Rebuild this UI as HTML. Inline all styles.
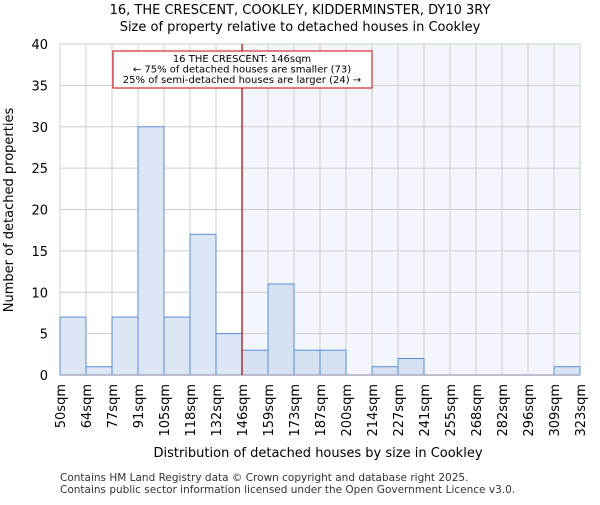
<!DOCTYPE html>
<html><head><meta charset="utf-8"><style>body{margin:0;background:#fff}svg{font-family:"DejaVu Sans","Liberation Sans",sans-serif}</style></head>
<body>
<svg id="c" width="600" height="500" xmlns="http://www.w3.org/2000/svg">
<text x="300" y="14" text-anchor="middle" font-size="13">16, THE CRESCENT, COOKLEY, KIDDERMINSTER, DY10 3RY</text>
<text x="300" y="31" text-anchor="middle" font-size="13">Size of property relative to detached houses in Cookley</text>
<text transform="translate(13,210) rotate(-90)" text-anchor="middle" font-size="13">Number of detached properties</text>
<text x="318" y="457" text-anchor="middle" font-size="13">Distribution of detached houses by size in Cookley</text>
<text x="60" y="481" font-size="10.5" fill="#333">Contains HM Land Registry data © Crown copyright and database right 2025.</text>
<text x="60" y="493" font-size="10.5" fill="#333">Contains public sector information licensed under the Open Government Licence v3.0.</text>
<g id="plot"></g>
</svg>
<script>
const labels=["50sqm","64sqm","77sqm","91sqm","105sqm","118sqm","132sqm","146sqm","159sqm","173sqm","187sqm","200sqm","214sqm","227sqm","241sqm","255sqm","268sqm","282sqm","296sqm","309sqm","323sqm"];
const counts=[7,1,7,30,7,17,5,3,11,3,3,0,1,2,0,0,0,0,0,1];
const yTicks=[0,5,10,15,20,25,30,35,40];
const markerIndex=7;
const NS="http://www.w3.org/2000/svg";
const g=document.getElementById('plot');
const L=60,R=580,T=44,B=375,n=counts.length,bw=(R-L)/n;
const x=i=>L+i*bw, y=v=>B-(v/40)*(B-T);
function mk(t,a,p){const e=document.createElementNS(NS,t);for(const k in a)e.setAttribute(k,a[k]);(p||g).appendChild(e);return e;}
let e=mk('rect',{x:x(markerIndex),y:T,width:R-x(markerIndex),height:B-T,fill:'#f3f6fd'});


for(let i=0;i<=n;i++){e=mk('line',{x1:x(i),x2:x(i),y1:T,y2:B,stroke:'#ccc'});

}
yTicks.forEach(v=>{e=mk('line',{x1:L,x2:R,y1:y(v),y2:y(v),stroke:'#ccc'});


const t=mk('text',{x:L-12,y:y(v)+5,'text-anchor':'end','font-size':13});t.textContent=v;

});
counts.forEach((c,i)=>{if(c<=0)return;const r=mk('rect',{x:x(i),y:y(c),width:bw,height:B-y(c),fill:i>=markerIndex?'#d6e2f3':'#dce6f4',stroke:'#5b8ed6','stroke-width':1});

});
e=mk('line',{x1:L,x2:R,y1:B,y2:B,stroke:'#aab',"stroke-width":1.5});


labels.forEach((s,i)=>{const t=mk('text',{transform:`translate(${x(i)+5},384) rotate(-90)`,'text-anchor':'end','font-size':13});t.textContent=s;

});
e=mk('line',{x1:x(markerIndex),x2:x(markerIndex),y1:T,y2:B,stroke:'#a00','stroke-width':1.2});


const ag=mk('g',{});


mk('rect',{x:113,y:51,width:259,height:37,fill:'#fff',stroke:'#c00'},ag);
["16 THE CRESCENT: 146sqm","← 75% of detached houses are smaller (73)","25% of semi-detached houses are larger (24) →"].forEach((s,i)=>{const t=mk('text',{x:242,y:62+i*10.5,'text-anchor':'middle','font-size':10},ag);t.textContent=s;});
</script>
</body></html>
